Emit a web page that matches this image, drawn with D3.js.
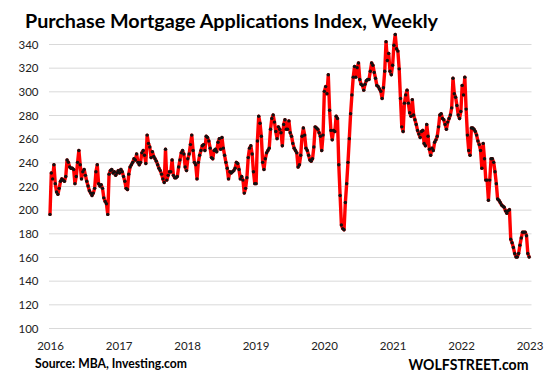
<!DOCTYPE html>
<html><head><meta charset="utf-8">
<script src="https://cdn.jsdelivr.net/npm/d3@7"></script>
<style>body{margin:0;background:#fff}svg{display:block}</style>
</head><body><svg id="c" width="547" height="383"></svg>
<script>
// Weekly index values (Fridays), one array per year
const values2016=[196,231,226,238,222,215,213,218,224,226,225,224,228,242,240,236,235,235,234,222,228,240,250,238,226,232,234,229,224,220,216,214,212,214,218,232,238,222,220,221,218,210,207,205,196,230,233,234,231,232,229,231,233];
const values2017=[231,234,232,228,224,218,217,230,236,238,240,243,242,247,240,238,240,248,250,246,239,263,256,253,244,249,245,243,241,238,235,233,230,226,223,251,225,229,232,232,242,229,227,227,228,236,242,248,250,247,236,233];
const values2018=[243,247,255,263,250,240,238,226,240,246,250,254,255,250,262,261,258,252,244,243,250,251,249,257,260,251,261,252,246,240,235,226,232,231,232,233,235,240,239,234,226,228,225,214,218,227,244,252,254,247,232,222];
const values2019=[222,258,279,273,262,240,234,243,248,250,252,268,277,280,274,266,260,270,268,265,254,272,276,268,268,275,265,262,256,252,250,248,236,238,246,262,269,263,252,250,246,242,241,243,253,270,269,268,265,262,250,263];
const values2020=[300,304,298,314,284,267,259,267,266,279,277,238,212,187,184,183,206,222,240,260,281,297,312,321,312,320,324,310,306,305,301,306,309,310,310,317,324,322,316,311,305,304,302,300,294,303,317,342,326,332,317,314];
const values2021=[322,339,348,336,334,319,294,270,266,290,297,301,290,282,279,293,280,276,272,267,264,261,266,267,256,254,272,262,251,246,252,250,257,259,262,270,280,281,277,276,272,268,274,277,280,286,311,298,295,288,280,277,283];
const values2022=[305,297,312,285,263,250,246,269,269,268,266,263,258,255,250,235,256,243,225,225,208,225,243,243,240,232,222,209,208,206,204,203,202,199,197,199,200,175,172,168,163,160,160,163,170,176,181,181,181,178,163,160];
const yTicks=[100,120,140,160,180,200,220,240,260,280,300,320,340];
const xTickYears=[2016,2017,2018,2019,2020,2021,2022,2023];
const titleText="Purchase Mortgage Applications Index, Weekly";
const sourceText="Source: MBA, Investing.com";
const brandText="WOLFSTREET.com";

const allValues=[].concat(values2016,values2017,values2018,values2019,values2020,values2021,values2022);
const start=Date.UTC(2016,0,1);
const data=allValues.map((v,i)=>({date:d3.utcDay.offset(new Date(start),7*i),value:v}));

const svg=d3.select("#c");
const x=d3.scaleUtc().domain([new Date(Date.UTC(2016,0,1)),new Date(Date.UTC(2023,0,1))]).range([50,529.5]);
const y=d3.scaleLinear().domain([100,340]).range([328,44]);
const font="Lato, 'Open Sans', sans-serif";

// gridlines
svg.append("g").selectAll("line").data(yTicks).join("line")
  .attr("x1",49).attr("x2",531.5)
  .attr("y1",d=>y(d)+0.5).attr("y2",d=>y(d)+0.5)
  .attr("stroke","#d9d9d9").attr("stroke-width",1);

// y axis labels
const yAxis=d3.axisLeft(y).tickValues(yTicks).tickSize(0).tickPadding(0);
const gy=svg.append("g").attr("transform","translate(38.5,0.5)").call(yAxis);
gy.select(".domain").remove();
gy.selectAll("text").attr("font-family",font).attr("font-size","11.5px").attr("fill","#222");

// x axis labels
const xAxis=d3.axisBottom(x).tickValues(xTickYears.map(yr=>new Date(Date.UTC(yr,0,1))))
  .tickFormat(d3.utcFormat("%Y")).tickSize(0).tickPadding(0);
const gx=svg.append("g").attr("transform","translate(0,342)").call(xAxis);
gx.select(".domain").remove();
gx.selectAll("text").attr("font-family",font).attr("font-size","11.5px").attr("fill","#222");

// line
const line=d3.line().x(d=>x(d.date)).y(d=>y(d.value));
svg.append("path").datum(data).attr("d",line)
  .attr("fill","none").attr("stroke","#ff0000").attr("stroke-width",3.4)
  .attr("stroke-linejoin","round").attr("stroke-linecap","round");
svg.append("g").selectAll("circle").data(data).join("circle")
  .attr("cx",d=>x(d.date)).attr("cy",d=>y(d.value)).attr("r",1.7).attr("fill","#111");

// texts
svg.append("text").attr("x",25).attr("y",27.5).text(titleText)
  .attr("font-family",font).attr("font-weight",700).attr("font-size","19.5px").attr("fill","#000")
  .attr("textLength",413).attr("lengthAdjust","spacingAndGlyphs");
svg.append("text").attr("x",35).attr("y",368).text(sourceText)
  .attr("font-family",font).attr("font-weight",700).attr("font-size","12.5px").attr("fill","#000")
  .attr("textLength",152).attr("lengthAdjust","spacingAndGlyphs");
svg.append("text").attr("x",408.5).attr("y",369.5).text(brandText)
  .attr("font-family",font).attr("font-weight",700).attr("font-size","15px").attr("fill","#000")
  .attr("textLength",120).attr("lengthAdjust","spacingAndGlyphs");
</script></body></html>
